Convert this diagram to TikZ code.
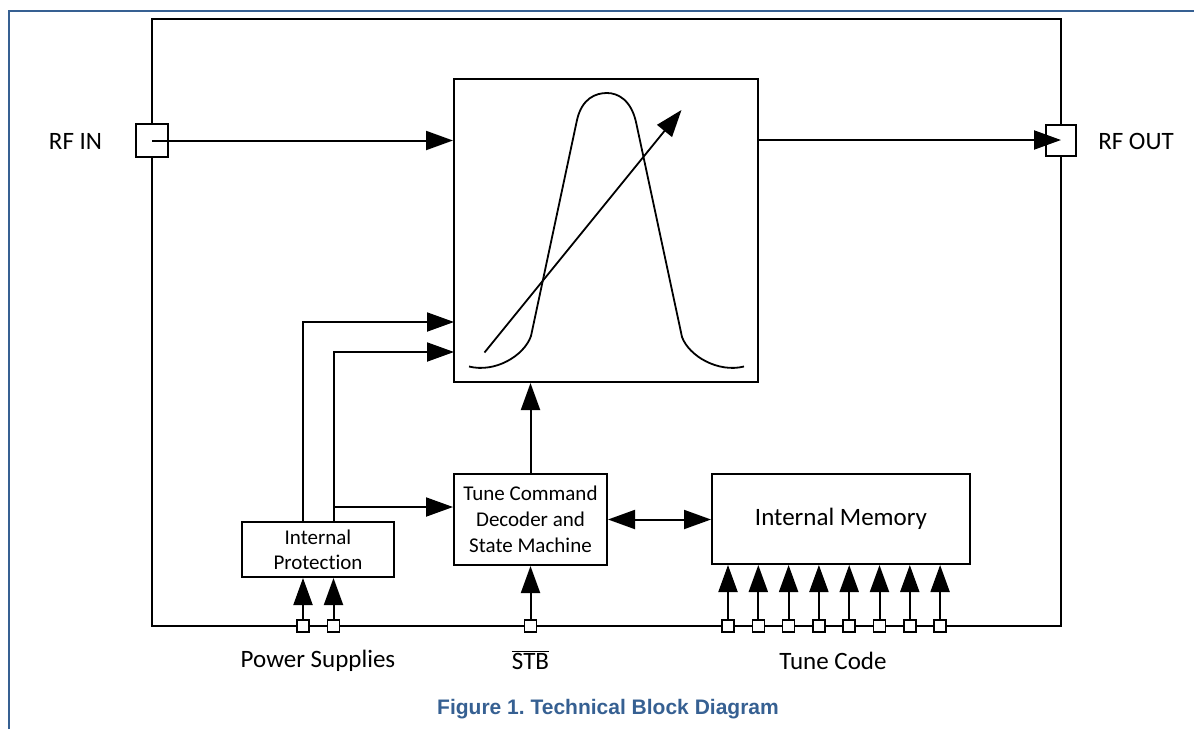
\documentclass[tikz,border=0pt]{standalone}
\usepackage{fontspec}
\setmainfont{Carlito}[Ligatures=NoCommon]
\newfontfamily\capfont{Liberation Sans}
\usetikzlibrary{arrows.meta}
\definecolor{frameblue}{RGB}{54,96,146}
\frenchspacing
\begin{document}
\begin{tikzpicture}[x=1pt,y=-1pt,line width=2pt,
  blk/.style={draw,line width=2pt,inner sep=0pt,align=center,fill=white},
  portbox/.style={draw,line width=2pt,inner sep=0pt,fill=white},
  pinbox/.style={draw,line width=1.6pt,inner sep=0pt,fill=white,minimum size=12pt},
  bigtip/.tip={Triangle[length=27pt,width=19pt]},
  arr/.style={-bigtip},
  lbl/.style={font=\fontsize{25}{30}\selectfont,inner sep=0pt},
  smalltxt/.style={font=\fontsize{21}{26}\selectfont},
  curve/.style={line width=1.8pt}]
\useasboundingbox (0,0) rectangle (1194,729);
% page frame (top and left only)
\draw[frameblue,line width=2.2pt] (9,729) -- (9,11) -- (1194,11);
% chip outline
\node[draw,line width=2pt,minimum width=909pt,minimum height=607pt,inner sep=0pt] (chip) at (606.5,322) {};
% blocks
\node[blk,minimum width=304pt,minimum height=303pt] (filter) at (606,230.5) {};
\node[blk,minimum width=153pt,minimum height=91pt,smalltxt] (tcd) at (530.5,519.5)
  {Tune Command\\Decoder and\\State Machine};
\node[blk,minimum width=258pt,minimum height=90pt,lbl] (mem) at (841,519) {Internal Memory};
\node[blk,minimum width=152pt,minimum height=55pt,font=\fontsize{21}{25}\selectfont] (prot) at (318,549.5)
  {Internal\\Protection};
% ports
\node[portbox,minimum width=32pt,minimum height=33pt] (rfin) at (152,140.5) {};
\node[portbox,minimum width=30pt,minimum height=31pt] (rfout) at (1061,140) {};
% pins
\node[pinbox] (pw1) at (303,626) {};
\node[pinbox] (pw2) at (333.5,626) {};
\node[pinbox] (pstb) at (530.5,626) {};
\foreach \i in {0,...,7}{
  \node[pinbox] (tc\i) at ({728+30.3*\i},626) {};
}
% labels
\node[lbl] (lrfin) at (75.5,141) {RF IN};
\node[lbl] (lrfout) at (1136,141) {RF OUT};
\node[lbl] (lpow) at (318,661) {Power Supplies};
\node[lbl] (lstb) at (530.5,660) {$\overline{\mbox{STB}}$};
\node[lbl] (ltc) at (833,661) {Tune Code};
\node[font=\capfont\bfseries\fontsize{21}{25}\selectfont,text=frameblue,inner sep=0pt] (cap) at (608,709)
  {Figure 1. Technical Block Diagram};
% RF path
\draw[arr] (rfin.center) -- (rfin.center -| filter.west);
\draw[arr] (rfout.center -| filter.east) -- (rfout.center);
% filter inputs
\coordinate (fin1) at (454,322);
\coordinate (fin2) at (454,352);
\coordinate (br) at (333.5,507);
\draw[arr] (prot.north -| pw1) |- (fin1);
\draw[arr] (prot.north -| pw2) |- (fin2);
\draw[arr] (br) -- (br -| tcd.west);
% decoder to filter
\draw[arr] (tcd.north) -- (tcd.north |- filter.south);
\draw[bigtip-bigtip] (tcd.east) -- (tcd.east -| mem.west);
% pins
\draw[arr] (pw1.north) -- (pw1.north |- prot.south);
\draw[arr] (pw2.north) -- (pw2.north |- prot.south);
\draw[arr] (pstb.north) -- (tcd.south);
\foreach \i in {0,...,7}{
  \draw[arr] (tc\i.north) -- (tc\i.north |- mem.south);
}
% filter response curve
\draw[curve] (469,366.5) .. controls (495,373) and (524,356) .. (531,336)
  -- (577,120) .. controls (582,98) and (596,93) .. (607,93)
  .. controls (618,93) and (631,100) .. (636,122)
  -- (682,337) .. controls (689,356) and (718,373) .. (744,366.5);
% tuning arrow
\coordinate (ta) at (484.5,352.5);
\coordinate (tb) at (681.5,110);
\draw[curve,arr] (ta) -- (tb);
\end{tikzpicture}
\end{document}
